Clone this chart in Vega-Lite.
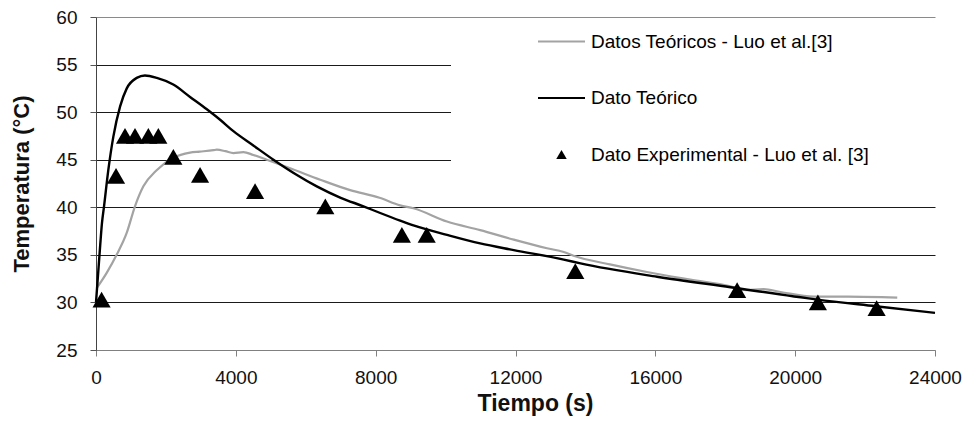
{
  "$schema": "https://vega.github.io/schema/vega-lite/v6.json",
  "width": 839,
  "height": 333,
  "autosize": {"type": "none"},
  "padding": {"left": 96, "top": 17, "right": 34, "bottom": 71},
  "background": "white",
  "config": {
    "view": {"stroke": null},
    "font": "Liberation Sans",
    "axis": {"labelFont": "Liberation Sans", "titleFont": "Liberation Sans", "labelColor": "#111", "titleColor": "#111"}
  },
  "datasets": {
    "d": [
      {"serie": "Datos Teóricos -  Luo et al.[3]", "t": 20, "T": 31.5},
      {"serie": "Datos Teóricos -  Luo et al.[3]", "t": 306, "T": 33.1},
      {"serie": "Datos Teóricos -  Luo et al.[3]", "t": 590, "T": 35.0},
      {"serie": "Datos Teóricos -  Luo et al.[3]", "t": 878, "T": 37.3},
      {"serie": "Datos Teóricos -  Luo et al.[3]", "t": 1115, "T": 40.1},
      {"serie": "Datos Teóricos -  Luo et al.[3]", "t": 1355, "T": 42.2},
      {"serie": "Datos Teóricos -  Luo et al.[3]", "t": 1735, "T": 43.9},
      {"serie": "Datos Teóricos -  Luo et al.[3]", "t": 2210, "T": 45.2},
      {"serie": "Datos Teóricos -  Luo et al.[3]", "t": 2690, "T": 45.75},
      {"serie": "Datos Teóricos -  Luo et al.[3]", "t": 2970, "T": 45.85},
      {"serie": "Datos Teóricos -  Luo et al.[3]", "t": 3360, "T": 46.0},
      {"serie": "Datos Teóricos -  Luo et al.[3]", "t": 3455, "T": 46.05},
      {"serie": "Datos Teóricos -  Luo et al.[3]", "t": 3700, "T": 45.9},
      {"serie": "Datos Teóricos -  Luo et al.[3]", "t": 3930, "T": 45.7},
      {"serie": "Datos Teóricos -  Luo et al.[3]", "t": 4215, "T": 45.8},
      {"serie": "Datos Teóricos -  Luo et al.[3]", "t": 4500, "T": 45.5},
      {"serie": "Datos Teóricos -  Luo et al.[3]", "t": 4885, "T": 45.0},
      {"serie": "Datos Teóricos -  Luo et al.[3]", "t": 5555, "T": 44.1},
      {"serie": "Datos Teóricos -  Luo et al.[3]", "t": 6415, "T": 42.9},
      {"serie": "Datos Teóricos -  Luo et al.[3]", "t": 7270, "T": 41.8},
      {"serie": "Datos Teóricos -  Luo et al.[3]", "t": 8110, "T": 41.0},
      {"serie": "Datos Teóricos -  Luo et al.[3]", "t": 8700, "T": 40.2},
      {"serie": "Datos Teóricos -  Luo et al.[3]", "t": 9080, "T": 39.9},
      {"serie": "Datos Teóricos -  Luo et al.[3]", "t": 10040, "T": 38.5},
      {"serie": "Datos Teóricos -  Luo et al.[3]", "t": 10990, "T": 37.6},
      {"serie": "Datos Teóricos -  Luo et al.[3]", "t": 11950, "T": 36.6},
      {"serie": "Datos Teóricos -  Luo et al.[3]", "t": 12900, "T": 35.7},
      {"serie": "Datos Teóricos -  Luo et al.[3]", "t": 13380, "T": 35.3},
      {"serie": "Datos Teóricos -  Luo et al.[3]", "t": 13660, "T": 34.9},
      {"serie": "Datos Teóricos -  Luo et al.[3]", "t": 14700, "T": 34.0},
      {"serie": "Datos Teóricos -  Luo et al.[3]", "t": 15760, "T": 33.2},
      {"serie": "Datos Teóricos -  Luo et al.[3]", "t": 17000, "T": 32.4},
      {"serie": "Datos Teóricos -  Luo et al.[3]", "t": 18150, "T": 31.7},
      {"serie": "Datos Teóricos -  Luo et al.[3]", "t": 18600, "T": 31.3},
      {"serie": "Datos Teóricos -  Luo et al.[3]", "t": 19100, "T": 31.4},
      {"serie": "Datos Teóricos -  Luo et al.[3]", "t": 19580, "T": 31.1},
      {"serie": "Datos Teóricos -  Luo et al.[3]", "t": 20530, "T": 30.6},
      {"serie": "Datos Teóricos -  Luo et al.[3]", "t": 21500, "T": 30.6},
      {"serie": "Datos Teóricos -  Luo et al.[3]", "t": 22920, "T": 30.5},
      {"serie": "Dato Teórico", "t": 0, "T": 30.0},
      {"serie": "Dato Teórico", "t": 60, "T": 33.0},
      {"serie": "Dato Teórico", "t": 120, "T": 36.0},
      {"serie": "Dato Teórico", "t": 170, "T": 38.3},
      {"serie": "Dato Teórico", "t": 230, "T": 40.1},
      {"serie": "Dato Teórico", "t": 352, "T": 43.9},
      {"serie": "Dato Teórico", "t": 495, "T": 47.4},
      {"serie": "Dato Teórico", "t": 690, "T": 50.6},
      {"serie": "Dato Teórico", "t": 880, "T": 52.5},
      {"serie": "Dato Teórico", "t": 1165, "T": 53.6},
      {"serie": "Dato Teórico", "t": 1400, "T": 53.85},
      {"serie": "Dato Teórico", "t": 1740, "T": 53.6},
      {"serie": "Dato Teórico", "t": 2210, "T": 52.9},
      {"serie": "Dato Teórico", "t": 2690, "T": 51.6},
      {"serie": "Dato Teórico", "t": 3170, "T": 50.3},
      {"serie": "Dato Teórico", "t": 3550, "T": 49.2},
      {"serie": "Dato Teórico", "t": 3930, "T": 48.0},
      {"serie": "Dato Teórico", "t": 4500, "T": 46.5},
      {"serie": "Dato Teórico", "t": 5075, "T": 45.0},
      {"serie": "Dato Teórico", "t": 5700, "T": 43.5},
      {"serie": "Dato Teórico", "t": 6315, "T": 42.2},
      {"serie": "Dato Teórico", "t": 7000, "T": 41.0},
      {"serie": "Dato Teórico", "t": 7650, "T": 40.1},
      {"serie": "Dato Teórico", "t": 8130, "T": 39.4},
      {"serie": "Dato Teórico", "t": 8700, "T": 38.6},
      {"serie": "Dato Teórico", "t": 9080, "T": 38.1},
      {"serie": "Dato Teórico", "t": 10040, "T": 37.1},
      {"serie": "Dato Teórico", "t": 10990, "T": 36.2},
      {"serie": "Dato Teórico", "t": 11950, "T": 35.5},
      {"serie": "Dato Teórico", "t": 13380, "T": 34.5},
      {"serie": "Dato Teórico", "t": 13860, "T": 34.1},
      {"serie": "Dato Teórico", "t": 16050, "T": 32.7},
      {"serie": "Dato Teórico", "t": 18150, "T": 31.6},
      {"serie": "Dato Teórico", "t": 20630, "T": 30.3},
      {"serie": "Dato Teórico", "t": 22300, "T": 29.6},
      {"serie": "Dato Teórico", "t": 24000, "T": 28.9},
      {"serie": "Dato Experimental - Luo et al.  [3]", "t": 160, "T": 30.3},
      {"serie": "Dato Experimental - Luo et al.  [3]", "t": 573, "T": 43.3},
      {"serie": "Dato Experimental - Luo et al.  [3]", "t": 830, "T": 47.5},
      {"serie": "Dato Experimental - Luo et al.  [3]", "t": 1116, "T": 47.5},
      {"serie": "Dato Experimental - Luo et al.  [3]", "t": 1497, "T": 47.5},
      {"serie": "Dato Experimental - Luo et al.  [3]", "t": 1783, "T": 47.5},
      {"serie": "Dato Experimental - Luo et al.  [3]", "t": 2213, "T": 45.3},
      {"serie": "Dato Experimental - Luo et al.  [3]", "t": 2977, "T": 43.4},
      {"serie": "Dato Experimental - Luo et al.  [3]", "t": 4550, "T": 41.7},
      {"serie": "Dato Experimental - Luo et al.  [3]", "t": 6560, "T": 40.1},
      {"serie": "Dato Experimental - Luo et al.  [3]", "t": 8750, "T": 37.1},
      {"serie": "Dato Experimental - Luo et al.  [3]", "t": 9460, "T": 37.1},
      {"serie": "Dato Experimental - Luo et al.  [3]", "t": 13710, "T": 33.3},
      {"serie": "Dato Experimental - Luo et al.  [3]", "t": 18340, "T": 31.3},
      {"serie": "Dato Experimental - Luo et al.  [3]", "t": 20650, "T": 30.0},
      {"serie": "Dato Experimental - Luo et al.  [3]", "t": 22330, "T": 29.4}
    ]
  },
  "data": {"name": "d"},
  "encoding": {
    "x": {
      "field": "t", "type": "quantitative",
      "scale": {"domain": [0, 24000], "nice": false},
      "axis": {
        "title": "Tiempo (s)", "values": [0, 4000, 8000, 12000, 16000, 20000, 24000], "format": "d",
        "grid": false, "tickSize": 6, "tickColor": "#808080", "domainColor": "#808080", "domainWidth": 1,
        "labelFontSize": 19, "labelPadding": 12, "labelFlush": false,
        "titleFontSize": 23, "titleFontWeight": "bold", "titlePadding": 5, "titleX": 439
      }
    },
    "y": {
      "field": "T", "type": "quantitative",
      "scale": {"domain": [25, 60], "nice": false, "zero": false},
      "axis": {
        "title": "Temperatura (°C)", "values": [25, 30, 35, 40, 45, 50, 55, 60],
        "grid": true, "gridColor": {"condition": {"test": "datum.value == 60 || datum.value == 25", "value": "#8a8a8a"}, "value": "#1a1a1a"}, "gridWidth": 1,
        "tickSize": 6, "tickColor": "#555", "domainColor": "#444", "domainWidth": 1,
        "labelFontSize": 19, "labelPadding": 13, "labelFlush": false,
        "titleFontSize": 22, "titleFontWeight": "bold", "titlePadding": 22
      }
    }
  },
  "layer": [
    {
      "transform": [{"filter": "datum.serie === 'Datos Teóricos -  Luo et al.[3]'"}],
      "mark": {"type": "line", "strokeWidth": 2.2, "interpolate": "monotone"},
      "encoding": {
        "color": {
          "field": "serie", "type": "nominal",
          "scale": {"domain": ["Datos Teóricos -  Luo et al.[3]", "Dato Teórico", "Dato Experimental - Luo et al.  [3]"], "range": ["#a3a3a3", "#000000", "#000000"]},
          "legend": {
            "title": " ", "titleOrient": "right", "titlePadding": 60, "titleFontSize": 18,
            "orient": "none", "legendX": 355, "legendY": 1,
            "padding": 14, "fillColor": "white", "strokeColor": null,
            "symbolSize": 400, "symbolStrokeWidth": 2, "symbolOffset": 87,
            "labelOffset": 20, "rowPadding": 36.5,
            "labelFontSize": 19, "labelFont": "Liberation Sans", "labelColor": "#000", "labelLimit": 500,
            "encode": {
              "symbols": {
                "update": {
                  "shape": {"signal": "datum.value === 'Dato Experimental - Luo et al.  [3]' ? 'triangle-up' : 'M-2.35,0L2.35,0'"},
                  "size": {"signal": "datum.value === 'Dato Experimental - Luo et al.  [3]' ? 110 : 400"},
                  "fill": {"signal": "datum.value === 'Dato Experimental - Luo et al.  [3]' ? '#000' : 'transparent'"},
                  "stroke": {"signal": "datum.value === 'Dato Teórico' ? '#000' : (datum.value === 'Dato Experimental - Luo et al.  [3]' ? 'transparent' : '#a3a3a3')"},
                  "strokeWidth": {"signal": "datum.value === 'Dato Experimental - Luo et al.  [3]' ? 0 : 2"},
                  "opacity": {"value": 1}
                }
              }
            }
          }
        }
      }
    },
    {
      "transform": [{"filter": "datum.serie === 'Dato Teórico'"}],
      "mark": {"type": "line", "strokeWidth": 2.4, "interpolate": "monotone"},
      "encoding": {
        "color": {"field": "serie", "type": "nominal"}
      }
    },
    {
      "transform": [{"filter": "datum.serie === 'Dato Experimental - Luo et al.  [3]'"}],
      "mark": {"type": "point", "shape": "triangle-up", "filled": true, "size": 330, "opacity": 1},
      "encoding": {
        "color": {"field": "serie", "type": "nominal"}
      }
    }
  ]
}
